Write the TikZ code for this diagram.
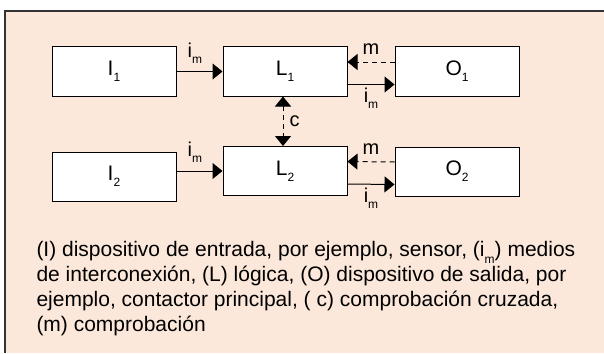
\documentclass[tikz,border=0pt]{standalone}
\usepackage{fontspec}
\setmainfont{Liberation Sans}
\usetikzlibrary{arrows.meta}

\definecolor{peach}{RGB}{252,232,218}
\newcommand{\lowsub}[1]{\raisebox{-0.3em}{\fontsize{12}{12}\selectfont #1}}

\begin{document}
\begin{tikzpicture}[x=1pt, y=-1pt, line width=1pt,
	unit/.style={draw, fill=white, minimum width=124pt, minimum height=49pt, inner sep=0pt, font=\fontsize{21}{21}\selectfont},
	flow/.style={-{Triangle[length=10pt,width=16pt]}},
	check/.style={flow, dash pattern=on 5pt off 4pt},
	tag/.style={font=\fontsize{20}{20}\selectfont, inner sep=0pt}]
		\useasboundingbox (0,0) rectangle (604,353);
		\fill[peach] (5,11) rectangle (604,353);
		\draw[line width=1.2pt, black!80] (5,353) -- (5,11) -- (604,11);

		% channel 1 and channel 2
		\node[unit] (I1) at (114,71.5) {I\lowsub{1}};
		\node[unit] (L1) at (285,71.5) {L\lowsub{1}};
		\node[unit] (O1) at (457,71.5) {O\lowsub{1}};
		\node[unit] (I2) at (114,176.5) {I\lowsub{2}};
		\node[unit] (L2) at (285,171) {L\lowsub{2}};
		\node[unit] (O2) at (457,171.5) {O\lowsub{2}};

		\foreach \k in {1,2} {
			\draw[flow] (I\k.east |- L\k) -- node[tag, above=8pt, pos=0.4] {i\lowsub{m}} (L\k.west);
			\draw[check] ([yshift=9.5pt]O\k.west) -- node[tag, above=7pt] {m} ([yshift=9.5pt]L\k.east);
			\draw[flow] ([yshift=-13pt]L\k.east) -- node[tag, below=3pt] {i\lowsub{m}} ([yshift=-13pt]O\k.west);
		}
		\draw[check, {Triangle[length=10pt,width=16pt]}-{Triangle[length=10pt,width=16pt]}] ([xshift=-2pt]L1.south) -- node[tag, right=6pt] {c} ([xshift=-2pt]L2.north);

		% legend
		\node[anchor=north west, align=left, inner sep=0pt, font=\fontsize{21}{25}\selectfont] (legend) at (36,241)
			{(I) dispositivo de entrada, por ejemplo, sensor, (i\lowsub{m}) medios\\
			de interconexión, (L) lógica, (O) dispositivo de salida, por\\
			ejemplo, contactor principal, ( c) comprobación cruzada,\\
			(m) comprobación};
\end{tikzpicture}
\end{document}
